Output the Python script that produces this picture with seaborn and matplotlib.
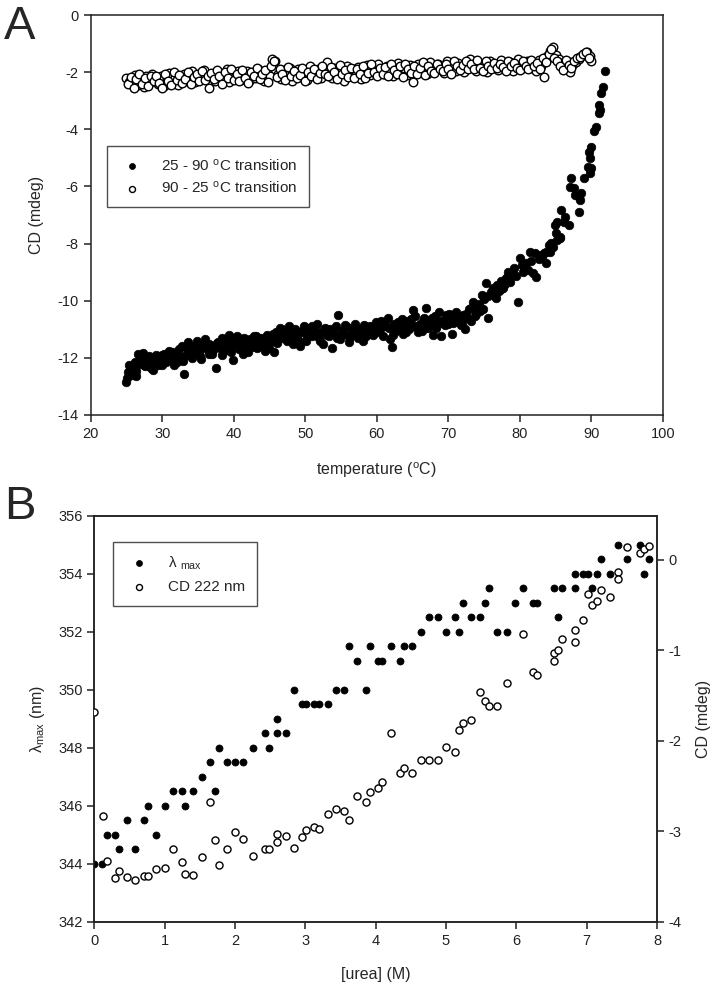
import matplotlib
matplotlib.use('Agg')
import matplotlib.pyplot as plt
import seaborn as sns

# ---------------- panel A: thermal scan (CD at 222 nm) ----------------
heat_temp = [
    25.0, 25.2, 25.4, 25.6, 25.8, 26.0, 26.2, 26.4, 26.6, 26.8, 27.0, 27.3, 27.6, 27.9, 28.2, 28.5, 28.8, 29.1, 29.4, 29.7,
    30.0, 30.3, 30.6, 30.9, 31.2, 31.5, 31.8, 32.1, 32.4, 32.7, 33.0, 33.3, 33.6, 33.9, 34.2, 34.5, 34.8, 35.1, 35.4, 35.7,
    36.0, 36.3, 36.6, 36.9, 37.2, 37.5, 37.8, 38.1, 38.4, 38.7, 39.0, 39.3, 39.6, 39.9,
    40.2, 40.5, 40.8, 41.1, 41.4, 41.7, 42.0, 42.3, 42.6, 42.9, 43.2, 43.5, 43.8, 44.1, 44.4, 44.7, 45.0, 45.3, 45.6, 45.9,
    46.2, 46.5, 46.8, 47.1, 47.4, 47.7, 48.0, 48.3, 48.6, 48.9, 49.2, 49.5, 49.8,
    50.1, 50.4, 50.7, 51.0, 51.3, 51.6, 51.9, 52.2, 52.5, 52.8, 53.1, 53.4, 53.7, 54.0, 54.3, 54.6, 54.9, 55.2, 55.5, 55.8,
    56.1, 56.4, 56.7, 57.0, 57.3, 57.6, 57.9, 58.2, 58.5, 58.8, 59.1, 59.4, 59.7,
    60.0, 60.3, 60.6, 60.9, 61.2, 61.5, 61.8, 62.1, 62.4, 62.7, 63.0, 63.3, 63.6, 63.9, 64.2, 64.5, 64.8, 65.1, 65.4, 65.7,
    66.0, 66.3, 66.6, 66.9, 67.2, 67.5, 67.8, 68.1, 68.4, 68.7, 69.0, 69.3, 69.6, 69.9,
    70.2, 70.5, 70.8, 71.1, 71.4, 71.7, 72.0, 72.3, 72.6, 72.9, 73.2, 73.5, 73.8, 74.1, 74.4, 74.7, 75.0, 75.3, 75.6, 75.9,
    76.2, 76.5, 76.8, 77.1, 77.4, 77.7, 78.0, 78.3, 78.6, 78.9, 79.2, 79.5, 79.8,
    80.0, 80.3, 80.5, 80.8, 81.1, 81.4, 81.6, 81.9, 82.1, 82.3, 82.6, 82.9, 83.1, 83.3, 83.6, 83.7, 84.0, 84.2, 84.4, 84.6,
    84.9, 85.0, 85.2, 85.2, 85.6, 85.6, 85.8,
    86.1, 86.3, 86.8, 87.0, 87.2, 87.5, 87.7, 88.2, 88.2, 88.4, 88.6, 88.9, 89.5, 89.6, 89.8, 89.8, 90.0, 90.0, 90.4, 90.6,
    91.0, 91.1, 91.2, 91.4, 91.6, 91.9,
]
heat_cd = [
    -12.83, -12.50, -12.25, -12.40, -12.60, -12.30, -12.15, -12.65, -11.85, -12.20, -12.05, -11.82, -12.30, -12.10, -11.95, -12.35, -12.20, -11.90, -12.25, -12.05,
    -12.25, -11.85, -12.00, -11.75, -12.10, -11.80, -11.95, -12.15, -11.70, -11.60, -12.58, -11.90, -11.45, -11.75, -12.00, -11.60, -11.40, -11.80, -12.05, -11.55,
    -11.35, -11.70, -11.50, -11.85, -11.60, -12.37, -11.45, -11.65, -11.30, -11.75, -11.55, -11.20, -11.80, -12.08,
    -11.50, -11.25, -11.70, -11.45, -11.30, -11.60, -11.80, -11.35, -11.50, -11.25, -11.65, -11.40, -11.30, -11.55, -11.75, -11.20, -11.45, -11.30, -11.80, -11.10,
    -11.35, -10.95, -11.25, -11.05, -11.40, -10.90, -11.20, -11.50, -11.00, -11.30, -11.60, -11.10, -10.90,
    -11.40, -11.15, -10.95, -11.25, -11.05, -10.80, -11.30, -11.10, -11.50, -10.95, -11.20, -11.00, -11.65, -11.15, -10.90, -10.50, -11.35, -11.05, -10.85, -11.20,
    -11.45, -10.95, -11.10, -10.80, -11.30, -11.00, -11.15, -10.85, -11.25, -11.05, -10.90, -11.20, -11.00,
    -10.85, -11.10, -10.70, -11.25, -10.90, -10.60, -11.35, -11.63, -10.80, -11.05, -10.75, -10.95, -11.15, -10.70, -10.85, -11.00, -10.65, -10.32, -10.90, -11.10,
    -10.80, -11.05, -10.60, -10.26, -10.95, -10.75, -11.20, -10.55, -10.85, -10.40, -11.23, -10.70, -10.50, -10.80,
    -10.55, -11.17, -10.75, -10.40, -10.60, -10.85, -10.50, -10.99, -10.59, -10.30, -10.70, -10.03, -10.45, -10.20, -10.35, -9.80, -9.95, -9.39, -10.59, -9.70,
    -9.55, -9.85, -9.45, -9.65, -9.30, -9.55, -9.20, -9.00, -9.35, -9.10, -8.85, -9.15, -10.03,
    -8.52, -8.75, -8.98, -8.69, -8.93, -8.28, -8.60, -9.04, -8.34, -9.16, -8.55, -8.40, -8.52, -8.34, -8.28, -8.69, -8.05, -8.28, -7.99, -8.11,
    -7.35, -7.64, -7.88, -7.23, -7.82, -7.78, -6.83,
    -7.23, -7.06, -7.35, -6.01, -5.72, -6.07, -6.30, -6.36, -6.88, -6.48, -6.24, -5.72, -5.31, -4.78, -5.02, -5.54, -4.61, -5.37, -4.05, -3.91,
    -3.15, -3.44, -3.33, -2.72, -2.51, -1.96,
]
# second pass of readings packed in between (overlapping dots in the band)
heat_temp_b = [
    25.1, 25.7, 26.3, 26.9, 27.5, 28.1, 28.7, 29.3, 29.9, 30.5, 31.1, 31.7, 32.3, 32.9, 33.5, 34.1, 34.7, 35.3, 35.9, 36.5,
    37.1, 37.7, 38.3, 38.9, 39.5, 40.1, 40.7, 41.3, 41.9, 42.5, 43.1, 43.7, 44.3, 44.9, 45.5, 46.1, 46.7, 47.3, 47.9, 48.5,
    49.1, 49.7, 50.3, 50.9, 51.5, 52.1, 52.7, 53.3, 53.9, 54.5, 55.1, 55.7, 56.3, 56.9, 57.5, 58.1, 58.7, 59.3, 59.9, 60.5,
    61.1, 61.7, 62.3, 62.9, 63.5, 64.1, 64.7, 65.3, 65.9, 66.5, 67.1, 67.7, 68.3, 68.9, 69.5, 70.1, 70.7, 71.3, 71.9, 72.5,
    73.1, 73.7, 74.3, 74.9, 75.5, 76.1, 76.7, 77.3, 77.9, 78.5, 79.1,
]
heat_cd_b = [
    -12.70, -12.35, -12.45, -12.00, -12.25, -11.98, -12.42, -12.05, -11.90, -12.15, -11.88, -12.25, -11.92, -12.10, -11.65, -11.88, -11.70, -11.95, -11.55, -11.88,
    -11.72, -11.48, -11.90, -11.40, -11.68, -11.42, -11.58, -11.85, -11.38, -11.62, -11.22, -11.58, -11.40, -11.65, -11.15, -11.48, -11.32, -10.98, -11.28, -11.12,
    -11.42, -11.02, -11.28, -10.88, -11.20, -11.40, -10.98, -11.22, -11.08, -11.30, -11.15, -10.90, -11.28, -10.95, -11.10, -11.40, -10.92, -11.18, -10.75, -11.00,
    -10.78, -10.95, -11.20, -10.85, -10.65, -11.10, -10.82, -10.55, -11.00, -10.70, -10.88, -10.60, -10.95, -10.70, -10.85, -10.48, -10.78, -10.62, -10.82, -10.45,
    -10.25, -10.55, -10.10, -10.30, -9.85, -9.65, -9.90, -9.60, -9.40, -9.25, -9.05,
]

cool_temp = [
    25.0, 25.4, 25.8, 26.2, 26.6, 27.0, 27.4, 27.8, 28.2, 28.6, 29.0, 29.4, 29.8, 30.2, 30.6, 31.0, 31.4, 31.8, 32.2, 32.6,
    33.0, 33.4, 33.8, 34.2, 34.6, 35.0, 35.4, 35.8, 36.2, 36.6, 37.0, 37.4, 37.8, 38.2, 38.6, 39.0, 39.4, 39.8, 40.2, 40.6,
    41.0, 41.4, 41.8, 42.2, 42.6, 43.0, 43.4, 43.8, 44.2, 44.6, 45.0, 45.4, 45.8, 46.2, 46.6, 47.0, 47.4, 47.8, 48.2, 48.6,
    49.0, 49.4, 49.8, 50.2, 50.6, 51.0, 51.4, 51.8, 52.2, 52.6, 53.0, 53.4, 53.8, 54.2, 54.6, 55.0, 55.4, 55.8, 56.2, 56.6,
    57.0, 57.4, 57.8, 58.2, 58.6, 59.0, 59.4, 59.8, 60.2, 60.6, 61.0, 61.4, 61.8, 62.2, 62.6, 63.0, 63.4, 63.8, 64.2, 64.6,
    65.0, 65.4, 65.8, 66.2, 66.6, 67.0, 67.4, 67.8, 68.2, 68.6, 69.0, 69.4, 69.8, 70.2, 70.6, 71.0, 71.4, 71.8, 72.2, 72.6,
    73.0, 73.4, 73.8, 74.2, 74.6, 75.0, 75.4, 75.8, 76.2, 76.6, 77.0, 77.4, 77.8, 78.2, 78.6, 79.0, 79.4, 79.8, 80.2, 80.6,
    81.0, 81.4, 81.8, 82.2, 82.6, 83.0, 83.4, 83.8, 84.2, 84.6, 85.0, 85.4, 85.8, 86.2, 86.6, 87.0, 87.4, 87.8, 88.2, 88.6,
    89.0, 89.4, 89.8, 90.0,
]
cool_cd = [
    -2.20, -2.35, -2.28, -2.10, -2.45, -2.30, -2.52, -2.15, -2.38, -2.05, -2.28, -2.42, -2.12, -2.50, -2.25, -2.02, -2.36, -2.18, -2.45, -2.22,
    -2.05, -2.30, -2.15, -1.95, -2.35, -2.10, -2.25, -1.92, -2.20, -2.56, -2.08, -2.30, -1.98, -2.22, -2.12, -1.90, -2.35, -2.05, -2.18, -1.95,
    -2.28, -2.10, -1.95, -2.32, -2.02, -2.20, -1.88, -2.12, -2.30, -1.98, -2.15, -1.55, -1.62, -2.05, -2.25, -1.92, -2.10, -1.85, -2.30, -2.00,
    -1.88, -2.18, -1.95, -2.28, -1.80, -2.05, -2.15, -1.90, -2.22, -1.82, -1.63, -2.00, -2.20, -1.85, -2.10, -1.95, -2.30, -1.78, -2.05, -1.90,
    -2.15, -1.82, -2.25, -1.95, -1.75, -2.10, -1.88, -2.02, -1.70, -1.92, -2.05, -1.78, -1.95, -2.12, -1.82, -1.68, -2.00, -1.85, -2.10, -1.75,
    -2.33, -1.90, -1.72, -1.98, -1.80, -2.05, -1.65, -1.88, -1.95, -1.70, -1.85, -2.02, -1.62, -1.90, -1.78, -1.95, -1.68, -1.85, -2.00, -1.72,
    -1.55, -1.82, -1.95, -1.65, -1.88, -1.75, -2.00, -1.60, -1.80, -1.70, -1.92, -1.58, -1.78, -1.85, -1.65, -1.95, -1.72, -1.55, -1.88, -1.75,
    -1.62, -1.85, -1.70, -1.95, -1.58, -1.78, -2.18, -1.45, -1.25, -1.11, -1.40, -1.55, -1.68, -1.72, -1.62, -1.98, -1.70, -1.65, -1.55, -1.42,
    -1.35, -1.28, -1.45, -1.60,
]
cool_temp_b = [
    25.2, 25.6, 26.0, 26.4, 26.8, 27.2, 27.6, 28.0, 28.4, 28.8, 29.2, 29.6, 30.0, 30.4, 30.8, 31.2, 31.6, 32.0, 32.4, 32.8,
    33.2, 33.6, 34.0, 34.4, 34.8, 35.2, 35.6, 36.0, 36.4, 36.8, 37.2, 37.6, 38.0, 38.4, 38.8, 39.2, 39.6, 40.0, 40.4, 40.8,
    41.2, 41.6, 42.0, 42.4, 42.8, 43.2, 43.6, 44.0, 44.4, 44.8, 45.2, 45.6, 46.0, 46.4, 46.8, 47.2, 47.6, 48.0, 48.4, 48.8,
    49.2, 49.6, 50.0, 50.4, 50.8, 51.2, 51.6, 52.0, 52.4, 52.8, 53.2, 53.6, 54.0, 54.4, 54.8, 55.2, 55.6, 56.0, 56.4, 56.8,
    57.2, 57.6, 58.0, 58.4, 58.8, 59.2, 59.6, 60.0, 60.4, 60.8, 61.2, 61.6, 62.0, 62.4, 62.8, 63.2, 63.6, 64.0, 64.4, 64.8,
    65.2, 65.6, 66.0, 66.4, 66.8, 67.2, 67.6, 68.0, 68.4, 68.8, 69.2, 69.6, 70.0, 70.4, 70.8, 71.2, 71.6, 72.0, 72.4, 72.8,
    73.2, 73.6, 74.0, 74.4, 74.8, 75.2, 75.6, 76.0, 76.4, 76.8, 77.2, 77.6, 78.0, 78.4, 78.8, 79.2, 79.6, 80.0, 80.4, 80.8,
    81.2, 81.6, 82.0, 82.4, 82.8, 83.2, 83.6, 84.0, 84.4, 84.8, 85.2, 85.6, 86.0, 86.4, 86.8, 87.2, 87.6, 88.0, 88.4, 88.8,
    89.2, 89.6,
]
cool_cd_b = [
    -2.40, -2.18, -2.55, -2.25, -2.08, -2.42, -2.20, -2.48, -2.12, -2.32, -2.15, -2.38, -2.55, -2.08, -2.32, -2.45, -2.00, -2.28, -2.10, -2.38,
    -2.25, -1.98, -2.40, -2.18, -2.05, -2.32, -1.95, -2.28, -2.12, -2.02, -2.25, -1.92, -2.15, -2.40, -2.00, -2.20, -1.88, -2.28, -2.05, -2.32,
    -1.92, -2.22, -2.38, -2.00, -2.15, -1.85, -2.25, -2.05, -1.92, -2.35, -1.78, -1.60, -2.18, -1.90, -2.05, -2.28, -1.82, -2.15, -1.95, -2.20,
    -2.10, -1.85, -2.32, -1.98, -2.12, -1.88, -2.25, -2.02, -1.78, -2.08, -2.15, -1.82, -1.98, -2.25, -1.75, -2.08, -1.92, -2.18, -1.85, -2.22,
    -1.90, -2.08, -1.80, -2.20, -2.02, -1.72, -1.98, -2.15, -1.85, -2.05, -1.82, -2.15, -1.70, -1.92, -2.05, -1.80, -2.18, -1.72, -1.90, -2.02,
    -1.78, -2.08, -1.85, -1.65, -2.10, -1.80, -1.95, -2.02, -1.72, -1.88, -1.95, -1.70, -1.88, -2.05, -1.62, -1.80, -1.92, -1.75, -1.60, -1.90,
    -1.72, -1.88, -1.58, -1.85, -1.95, -1.62, -1.78, -1.90, -1.68, -1.85, -1.70, -1.82, -1.95, -1.62, -1.80, -1.68, -1.85, -1.92, -1.60, -1.78,
    -1.90, -1.58, -1.80, -1.68, -1.88, -1.52, -1.65, -1.35, -1.20, -1.50, -1.62, -1.80, -1.92, -1.58, -1.75, -1.85, -1.62, -1.52, -1.48, -1.38,
    -1.30, -1.50,
]

# ---------------- panel B: urea denaturation ----------------
urea_lmax = [
    0.00, 0.11, 0.18, 0.29, 0.35, 0.46, 0.58, 0.71, 0.76, 0.88, 1.00, 1.12, 1.24, 1.29, 1.41, 1.53, 1.645, 1.71, 1.77, 1.89,
    2.00, 2.12, 2.25, 2.43, 2.48, 2.60, 2.60, 2.72, 2.84, 2.95, 3.01, 3.13, 3.19, 3.32, 3.44, 3.55, 3.62, 3.74, 3.86, 3.92,
    4.03, 4.09, 4.22, 4.34, 4.40, 4.52, 4.64, 4.76, 4.88, 5.00, 5.13, 5.18, 5.24, 5.36, 5.49, 5.55, 5.61, 5.73, 5.86, 5.98,
    6.10, 6.23, 6.29, 6.53, 6.59, 6.65, 6.83, 6.83, 6.95, 7.02, 7.08, 7.14, 7.20, 7.33, 7.45, 7.57, 7.76, 7.82, 7.88,
]
lmax = [
    344, 344, 345, 345, 344.5, 345.5, 344.5, 345.5, 346, 345, 346, 346.5, 346.5, 346, 346.5, 347, 347.5, 346.5, 348, 347.5,
    347.5, 347.5, 348, 348.5, 348, 348.5, 349, 348.5, 350, 349.5, 349.5, 349.5, 349.5, 349.5, 350, 350, 351.5, 351, 350, 351.5,
    351, 351, 351.5, 351, 351.5, 351.5, 352, 352.5, 352.5, 352, 352.5, 352, 353, 352.5, 352.5, 353, 353.5, 352, 352, 353,
    353.5, 353, 353, 353.5, 352.5, 353.5, 353.5, 354, 354, 354, 353.5, 354, 354.5, 354, 355, 354.5, 355, 354, 354.5,
]
urea_cd = [
    0.00, 0.12, 0.18, 0.29, 0.35, 0.46, 0.58, 0.71, 0.76, 0.88, 1.00, 1.12, 1.24, 1.29, 1.41, 1.53, 1.645, 1.71, 1.77, 1.89,
    2.00, 2.12, 2.25, 2.43, 2.48, 2.60, 2.60, 2.72, 2.84, 2.95, 3.01, 3.13, 3.19, 3.32, 3.44, 3.55, 3.62, 3.74, 3.86, 3.92,
    4.03, 4.09, 4.22, 4.34, 4.40, 4.52, 4.64, 4.76, 4.88, 5.00, 5.13, 5.18, 5.24, 5.36, 5.49, 5.55, 5.61, 5.73, 5.86, 6.10,
    6.23, 6.29, 6.53, 6.53, 6.59, 6.65, 6.83, 6.83, 6.95, 7.02, 7.08, 7.14, 7.20, 7.33, 7.45, 7.45, 7.57, 7.76, 7.82, 7.88,
]
cd222 = [
    -1.685, -2.835, -3.33, -3.515, -3.44, -3.51, -3.54, -3.49, -3.49, -3.42, -3.41, -3.20, -3.34, -3.47, -3.48, -3.28, -2.68, -3.10, -3.37, -3.20,
    -3.01, -3.09, -3.27, -3.20, -3.20, -3.12, -3.03, -3.05, -3.18, -3.06, -2.99, -2.95, -2.98, -2.81, -2.75, -2.77, -2.88, -2.61, -2.68, -2.57,
    -2.52, -2.45, -1.91, -2.35, -2.30, -2.36, -2.21, -2.21, -2.21, -2.065, -2.12, -1.88, -1.80, -1.77, -1.46, -1.56, -1.61, -1.61, -1.36, -0.82,
    -1.24, -1.27, -1.12, -1.03, -0.99, -0.87, -0.91, -0.77, -0.66, -0.38, -0.50, -0.45, -0.335, -0.41, -0.13, -0.21, 0.147, 0.074, 0.12, 0.16,
]

sns.set_style('ticks')
plt.rcParams['font.family'] = ['Liberation Sans', 'DejaVu Sans']
plt.rcParams['mathtext.fontset'] = 'custom'
plt.rcParams['mathtext.rm'] = 'Liberation Sans'
plt.rcParams['mathtext.it'] = 'Liberation Sans:italic'
plt.rcParams['axes.unicode_minus'] = False
plt.rcParams['axes.linewidth'] = 1.1
plt.rcParams['axes.edgecolor'] = '#222222'

fig = plt.figure(figsize=(7.26, 9.94), dpi=100)

# ---- A ----
axA = fig.add_axes([0.1249, 0.5825, 0.7883, 0.4024])
sns.scatterplot(x=heat_temp + heat_temp_b, y=heat_cd + heat_cd_b, ax=axA, color='black', s=38,
                edgecolor='black', linewidth=0.5, label=r'25 - 90 $^{\rm o}$C transition', zorder=3)
sns.scatterplot(x=cool_temp + cool_temp_b, y=cool_cd + cool_cd_b, ax=axA, color='white', s=38,
                edgecolor='black', linewidth=1.0, label=r'90 - 25 $^{\rm o}$C transition', zorder=3)
axA.set_xlim(20, 100)
axA.set_ylim(-14, 0)
axA.set_xticks(range(20, 101, 10))
axA.set_yticks(range(-14, 1, 2))
axA.set_xlabel(r'temperature ($^{\rm o}$C)', fontsize=11.5, labelpad=14)
axA.set_ylabel('CD (mdeg)', fontsize=11.5, labelpad=10)
axA.tick_params(direction='out', length=5, width=1.1, labelsize=10.5, colors='#222222')
for sp in axA.spines.values():
    sp.set_visible(True)
axA.legend(loc='upper left', bbox_to_anchor=(0.0285, 0.6725), frameon=True, fancybox=False,
           edgecolor='#222222', fontsize=11, markerscale=0.7, borderpad=0.75, labelspacing=0.4,
           handlelength=1.8, handletextpad=1.0, borderaxespad=0)
axA.get_legend().get_frame().set_linewidth(1.0)
fig.text(0.005, 0.995, 'A', fontsize=34, ha='left', va='top')

# ---- B ----
axB = fig.add_axes([0.1299, 0.0727, 0.7751, 0.4085])
axB2 = axB.twinx()
sns.scatterplot(x=urea_lmax, y=lmax, ax=axB, color='black', s=26, edgecolor='black',
                linewidth=0.5, label='λ $_{\\rm max}$', zorder=3, legend=False)
sns.scatterplot(x=urea_cd, y=cd222, ax=axB2, color='white', s=26, edgecolor='black',
                linewidth=1.0, label='CD 222 nm', zorder=3, legend=False)
axB.set_xlim(0, 8)
axB.set_ylim(342, 356)
axB2.set_ylim(-4, 0.49)
axB.set_xticks(range(0, 9))
axB.set_yticks(range(342, 357, 2))
axB2.set_yticks([-4, -3, -2, -1, 0])
axB.set_xlabel('[urea] (M)', fontsize=11.5, labelpad=14)
axB.set_ylabel('λ$_{\\rm max}$ (nm)', fontsize=11.5, labelpad=8)
axB2.set_ylabel('CD (mdeg)', fontsize=11.5, labelpad=10)
for a in (axB, axB2):
    a.tick_params(direction='out', length=5, width=1.1, labelsize=10.5, colors='#222222')
    for sp in a.spines.values():
        sp.set_visible(True)
h1, l1 = axB.get_legend_handles_labels()
h2, l2 = axB2.get_legend_handles_labels()
legB = axB2.legend(h1 + h2, l1 + l2, loc='upper left', bbox_to_anchor=(0.033, 0.935), frameon=True,
                   fancybox=False, edgecolor='#222222', fontsize=11, markerscale=0.85, borderpad=0.8,
                   labelspacing=0.55, handlelength=1.8, handletextpad=1.0, borderaxespad=0)
legB.get_frame().set_linewidth(1.0)
fig.text(0.005, 0.512, 'B', fontsize=34, ha='left', va='top')

fig.savefig('out.png', dpi=100)
